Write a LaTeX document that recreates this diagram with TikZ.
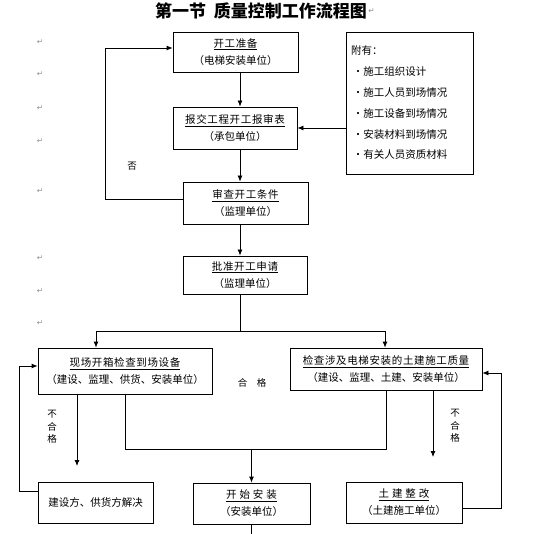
\documentclass[tikz,border=0pt]{standalone}
\usepackage{fontspec}
\setmainfont{Noto Sans CJK SC}
\newfontfamily\symfont{DejaVu Sans}
\usetikzlibrary{arrows.meta,positioning,calc}
\newcommand{\headline}[1]{{\addfontfeature{LetterSpace=6}\underline{#1}}}

\begin{document}
\begin{tikzpicture}[x=1pt, y=-1pt,
  every node/.style={align=center, font=\fontsize{10.5}{17}\selectfont, inner sep=0pt},
  box/.style={draw, line width=0.8pt, minimum height=40pt, align=center},
  arr/.style={-{Latex[length=6pt,width=5pt]}, line width=0.8pt},
  wire/.style={line width=0.8pt},
  lbl/.style={font=\fontsize{9.5}{12.5}\selectfont},
  pmark/.style={font=\symfont\fontsize{7.5}{7.5}\selectfont, text=black!45},
]
  \useasboundingbox (0,0) rectangle (535,534);

  % Title
  \node[font=\fontsize{17}{17}\selectfont\bfseries] (title) at (261,11)
    {第一节\ \ 质量控制工作流程图};
  \node[pmark, right=1pt of title] (tmark) {↵};
  \foreach \y in {42,74,108,141,191,258,291,323}
    \node[pmark] (pm\y) at (40,\y) {↵};

  % Upper chain
  \node[box, minimum width=125pt, minimum height=40pt] (prep) at (235.5,52)
    {\headline{开工准备}\\（电梯安装单位）};
  \node[box, minimum width=124pt, minimum height=42pt] (report) at (235,128)
    {\headline{报交工程开工报审表}\\（承包单位）};
  \node[box, minimum width=125pt, minimum height=42pt] (review) at (245.5,203)
    {\headline{审查开工条件}\\（监理单位）};
  \node[box, minimum width=124pt, minimum height=38pt] (approve) at (245,275)
    {\headline{批准开工申请}\\（监理单位）};

  % Attached documents
  \node[box, minimum width=127pt, minimum height=142pt, text width=117pt,
        align=left, font=\fontsize{10.5}{20.8}\selectfont] (annex) at (409.5,103)
    {附有：\\
     \,•施工组织设计\\
     \,•施工人员到场情况\\
     \,•施工设备到场情况\\
     \,•安装材料到场情况\\
     \,•有关人员资质材料};

  % Inspection row
  \node[box, minimum width=174pt, minimum height=46pt] (equip) at (125,371)
    {\headline{现场开箱检查到场设备}\\（建设、监理、供货、安装单位）};
  \node[box, minimum width=192pt, minimum height=42pt] (civil) at (386,369)
    {\headline{检查涉及电梯安装的土建施工质量}\\（建设、监理、土建、安装单位）};

  % Bottom row
  \node[box, minimum width=115pt, minimum height=41pt] (resolve) at (95.5,502.5)
    {建设方、供货方解决};
  \node[box, minimum width=117pt, minimum height=41pt] (install) at (251.5,503.5)
    {\headline{开\ 始\ 安\ 装}\\（安装单位）};
  \node[box, minimum width=116pt, minimum height=41pt] (rework) at (404,502.5)
    {\headline{土\ 建\ 整\ 改}\\（土建施工单位）};

  % Labels
  \node[lbl] (no) at (132,166) {否};
  \node[lbl] (pass) at (252,383) {合\quad 格};
  \node[lbl] (failtxtL) at (52,427) {不\\合\\格};
  \node[lbl] (failtxtR) at (455,426) {不\\合\\格};

  % Helper coordinates
  \coordinate (spine) at (240,0);
  \coordinate (nofb) at (105,0);
  \coordinate (splitL) at (96,331);
  \coordinate (splitR) at (385,331);
  \coordinate (failL) at (77,466);
  \coordinate (failR) at (433,457);
  \coordinate (merge) at (251.5,449);
  \coordinate (leftrun) at (19,0);
  \coordinate (rightrun) at (501,0);
  \coordinate (tail) at (251.5,534);

  % Upper chain arrows
  \draw[arr] (prep.south -| spine) -- (report.north -| spine);
  \draw[arr] (annex.west |- report.east) -- (report.east);
  \draw[arr] (report.south -| spine) -- (review.north -| spine);
  \draw[arr] (review.south -| spine) -- (approve.north -| spine);
  \draw[arr] ([yshift=4pt]review.west) -- ([yshift=4pt]review.west -| nofb)
    |- ([yshift=4pt]prep.west);

  % Split to the two checks
  \draw[wire] (approve.south -| spine) -- (spine |- splitL);
  \draw[wire] (splitL) -- (splitR);
  \draw[arr] (splitL) -- (splitL |- equip.north);
  \draw[arr] (splitR) -- (splitR |- civil.north);

  % Pass: merge into installation
  \draw[wire] (equip.south) |- (civil.south |- merge) -- (civil.south);
  \draw[arr] (merge) -- (install.north);
  \draw[wire] (install.south) -- (tail);

  % Fail branches
  \draw[arr] (failL |- equip.south) -- (failL);
  \draw[arr] (failR |- civil.south) -- (failR);
  \draw[arr] ([yshift=11.5pt]resolve.west) -- ([yshift=11.5pt]resolve.west -| leftrun)
    |- ([yshift=5pt]equip.west);
  \draw[arr] ([yshift=-5.5pt]rework.east) -- ([yshift=-5.5pt]rework.east -| rightrun)
    |- ([yshift=-4pt]civil.east);
\end{tikzpicture}
\end{document}
